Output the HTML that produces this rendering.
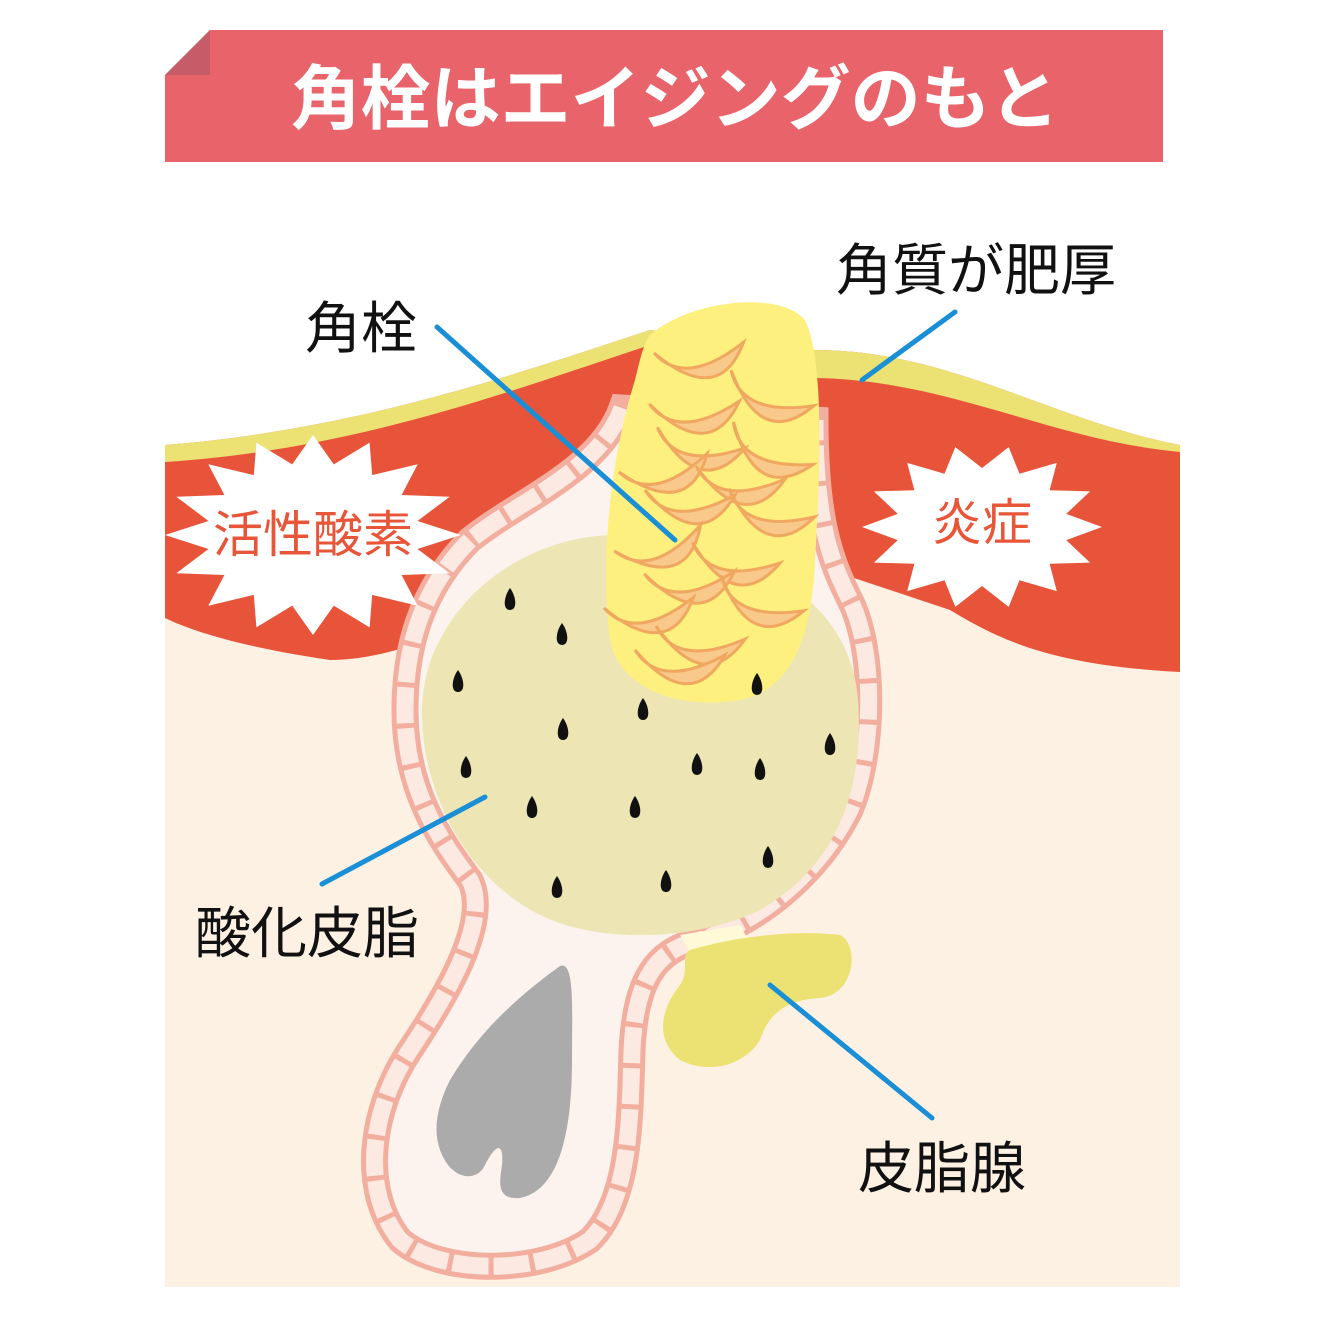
<!DOCTYPE html>
<html><head><meta charset="utf-8"><style>
body{margin:0;background:#fff;}
svg{display:block}
text{font-family:"Liberation Sans","Noto Sans CJK JP",sans-serif;}
</style></head><body>
<svg id="s" width="1336" height="1342" viewBox="0 0 1336 1342" xmlns="http://www.w3.org/2000/svg">
<defs>
<path id="fl" d="M-45,-10 Q-20,30 45,-5 Q10,55 -45,-10Z" fill="#f9c98c" stroke="#f0a860" stroke-width="3"/>
</defs>
<!-- title -->
<polygon points="210,30 1163,30 1163,162 165,162 165,75" fill="#e8636a"/>
<polygon points="165,75 210,30 210,75" fill="#c65c68"/>
<text x="675" y="123" font-size="70" font-weight="bold" fill="#fff" text-anchor="middle">角栓はエイジングのもと</text>
<!-- skin -->
<rect x="165" y="445" width="1015" height="842" fill="#fdf1e4"/>
<path d="M165,445 C350,430 500,380 650,330 L815,350 C950,350 1050,420 1180,445 L1180,672 C1050,665 1000,640 950,610 L800,560 L600,560 C500,600 420,660 330,660 C260,650 200,635 165,618Z" fill="#e8543a"/>
<path d="M165,445 C350,430 500,380 650,330 L815,350 C950,350 1050,420 1180,445 L1180,452 C1050,440 950,380 815,378 L650,345 C500,395 350,450 165,462Z" fill="#ece274"/>
<!-- follicle -->
<path d="M622,408 C600,470 520,500 470,540 C420,590 405,650 405,710 C405,790 440,840 470,880 C490,920 450,990 410,1050 C370,1110 360,1190 400,1240 C440,1275 540,1275 590,1240 C630,1200 630,1120 632,1050 C635,990 650,955 690,943 C760,925 820,870 850,810 C875,750 875,650 850,600 C830,560 815,520 815,420Z" fill="#fcf3ee" stroke="#f2ae9e" stroke-width="27"/>
<path d="M622,408 C600,470 520,500 470,540 C420,590 405,650 405,710 C405,790 440,840 470,880 C490,920 450,990 410,1050 C370,1110 360,1190 400,1240 C440,1275 540,1275 590,1240 C630,1200 630,1120 632,1050 C635,990 650,955 690,943 C760,925 820,870 850,810 C875,750 875,650 850,600 C830,560 815,520 815,420" fill="none" stroke="#fbe9e2" stroke-width="17" stroke-dasharray="36 5"/>
<!-- hair -->
<path d="M560,966 C575,960 572,1010 572,1060 C572,1130 560,1190 520,1198 C495,1200 500,1180 502,1165 C504,1140 495,1145 485,1165 C478,1180 460,1180 448,1165 C430,1140 435,1110 450,1080 C480,1030 520,995 560,966Z" fill="#aaabaa"/>
<!-- sebum -->
<path d="M440,640 C480,560 580,520 660,540 C760,555 850,600 858,700 C865,800 830,870 760,910 C700,940 600,945 540,915 C470,880 425,800 422,720 C421,690 428,660 440,640Z" fill="#ede6b4"/>
<path d="M680,935 L740,925 L750,943 L690,953Z" fill="#fff9d8"/>
<!-- gland -->
<path d="M690,950 C740,935 800,930 840,935 C860,945 855,995 820,998 C790,1000 770,1010 760,1040 C745,1065 710,1075 680,1060 C655,1040 660,1010 680,985 C690,970 680,955 690,950Z" fill="#ece274"/>
<!-- plug -->
<path d="M650,335 C690,300 780,290 805,320 C825,360 820,480 815,560 C812,640 790,690 740,700 C680,710 620,690 610,640 C600,560 610,460 635,380 C640,360 643,345 650,335Z" fill="#fdf07e"/>
<g id="flakes"></g>
<g id="dots" fill="#111"></g>
<!-- stars -->
<polygon id="st1" fill="#fff"/>
<polygon id="st2" fill="#fff"/>
<text x="313" y="552" font-size="50" fill="#e8563a" text-anchor="middle">活性酸素</text>
<text x="982" y="540" font-size="50" fill="#e8563a" text-anchor="middle">炎症</text>
<!-- lines -->
<g stroke="#1a8fd6" stroke-width="5" stroke-linecap="round">
<line x1="437" y1="327" x2="675" y2="540"/>
<line x1="955" y1="312" x2="862" y2="380"/>
<line x1="485" y1="797" x2="322" y2="884"/>
<line x1="770" y1="985" x2="932" y2="1118"/>
</g>
<g font-size="56" fill="#111">
<text x="305" y="348">角栓</text>
<text x="836" y="290">角質が肥厚</text>
<text x="195" y="953">酸化皮脂</text>
<text x="858" y="1188">皮脂腺</text>
</g>
</svg>
<script>
var ns="http://www.w3.org/2000/svg";
function star(id,cx,cy,rx,ry,n){var p=[];for(var i=0;i<2*n;i++){var a=Math.PI*i/n,r=i%2?0.72:1;p.push((cx+rx*r*Math.cos(a)).toFixed(1)+","+(cy+ry*r*Math.sin(a)).toFixed(1));}document.getElementById(id).setAttribute("points",p.join(" "));}
star("st1",313,535,148,100,16);star("st2",982,527,120,82,14);
var f=[[700,355,-10],[770,395,20],[695,410,-5],[700,445,10],[770,450,25],[665,470,-15],[740,480,5],[690,500,0],[770,510,15],[660,545,-20],[735,560,10],[690,580,-5],[760,600,20],[650,610,-10],[700,640,5],[680,660,0]];
var g=document.getElementById("flakes");
f.forEach(function(a){var u=document.createElementNS(ns,"use");u.setAttribute("href","#fl");u.setAttribute("transform","translate("+a[0]+","+a[1]+") rotate("+a[2]+")");g.appendChild(u);});
var d=[[510,600],[562,635],[458,682],[757,685],[643,710],[563,730],[830,745],[466,768],[697,765],[760,770],[532,808],[635,808],[768,858],[557,888],[666,882]];
var dg=document.getElementById("dots");
d.forEach(function(a){var p=document.createElementNS(ns,"path");p.setAttribute("d","M"+a[0]+","+(a[1]-12)+" C"+(a[0]+6)+","+(a[1]-4)+" "+(a[0]+8)+","+(a[1]+10)+" "+a[0]+","+(a[1]+10)+" C"+(a[0]-8)+","+(a[1]+10)+" "+(a[0]-6)+","+(a[1]-4)+" "+a[0]+","+(a[1]-12)+"Z");dg.appendChild(p);});
</script>
</body></html>
